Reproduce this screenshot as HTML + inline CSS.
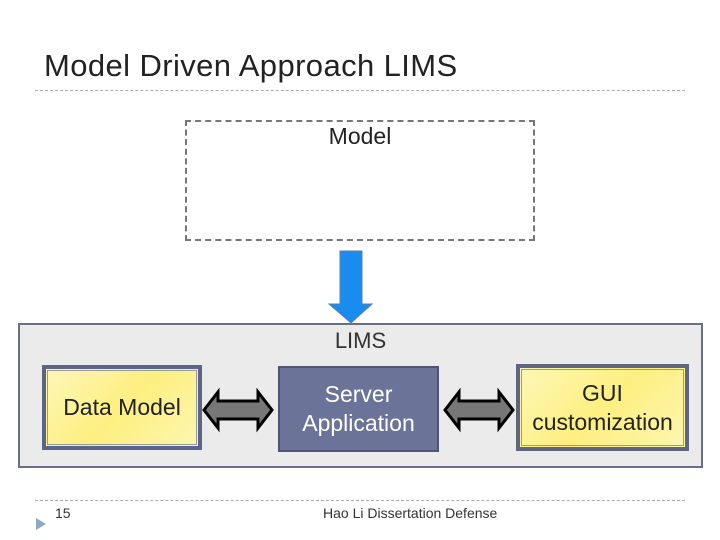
<!DOCTYPE html>
<html><head><style>
body{margin:0;width:720px;height:540px;background:#fff;position:relative;overflow:hidden;font-family:"Liberation Sans",sans-serif}
div{position:absolute;box-sizing:border-box}
.t{text-align:center;display:flex;align-items:center;justify-content:center;line-height:29px}
</style></head><body>
<div style="left:44px;top:48px;font-size:31px;letter-spacing:0.4px;color:#222">Model Driven Approach LIMS</div>
<div style="left:35px;top:90px;width:650px;border-top:1px dashed #aab"></div>
<div style="left:185px;top:120px;width:350px;height:121px;border:2px dashed #777"></div>
<div style="left:185px;top:123px;width:350px;text-align:center;font-size:23px;color:#222">Model</div>
<div style="left:18px;top:323px;width:685px;height:145px;background:#ebebeb;border:2px solid #6a6e88"></div>
<div style="left:18px;top:328px;width:685px;text-align:center;font-size:22px;color:#333">LIMS</div>
<svg style="position:absolute;left:0;top:0" width="720" height="540">
<polygon points="340,251 362,251 362,304 372,304 351,323 329,304 340,304" fill="#1a8cf0" stroke="#5b7fa8" stroke-width="1"/>
<polygon points="204,410 218,392 218,401 258,401 258,392 272,410 258,428 258,419 218,419 218,428" fill="#777" stroke="#000" stroke-width="3"/>
<polygon points="445,410 459,392 459,401 499,401 499,392 513,410 499,428 499,419 459,419 459,428" fill="#777" stroke="#000" stroke-width="3"/>
<polygon points="36,518 36,530 46,524" fill="#8faac8"/>
</svg>
<div class="t" style="left:42px;top:365px;width:160px;height:85px;background:linear-gradient(135deg,#fdf7b8,#fdef80 50%,#fdf6b0);border:4px solid #5e6484;outline:1px solid #999 ;outline-offset:-6px;font-size:23px;color:#222">Data Model</div>
<div class="t" style="left:278px;top:366px;width:161px;height:86px;background:#6b7399;border:2px solid #4d5478;font-size:23px;color:#fff">Server<br>Application</div>
<div class="t" style="left:516px;top:364px;width:173px;height:87px;background:linear-gradient(135deg,#fdf7b8,#fdef80 50%,#fdf6b0);border:4px solid #5e6484;outline:1px solid #999;outline-offset:-6px;font-size:23px;color:#222">GUI<br>customization</div>
<div style="left:35px;top:500px;width:650px;border-top:1px dashed #aab"></div>
<div style="left:55px;top:505px;font-size:14px;color:#333">15</div>
<div style="left:323px;top:505px;font-size:14px;color:#333">Hao Li Dissertation Defense</div>
</body></html>
